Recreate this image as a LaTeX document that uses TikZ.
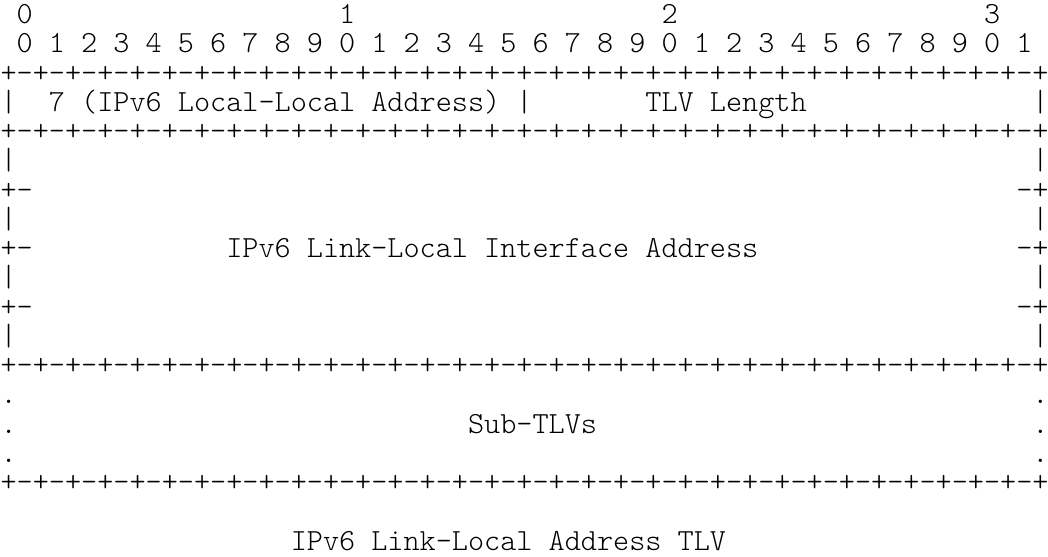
\documentclass[tikz,border=0pt]{standalone}
\usepackage{fontspec}
\newfontfamily\asciifont{lmmonolt10-regular.otf}
\usetikzlibrary{positioning}

\def\dashrow{+-+-+-+-+-+-+-+-%
+-+-+-+-+-+-+-+-%
+-+-+-+-+-+-+-+-%
+-+-+-+-+-+-+-+-%
+}

\begin{document}
\begin{tikzpicture}
\tikzstyle{ascii}=[anchor=base west, inner sep=0pt, text=black,
font=\asciifont\fontsize{11.4286pt}{10.89pt}\selectfont, yshift=-3.3pt]
\def\cw{6pt}
\def\lh{10.89pt}

\useasboundingbox (0,0) rectangle (65*\cw, -19*\lh);

% bit numbers
\node (tens0) [ascii] at (1*\cw, -0.5*\lh) {0};
\node (tens1) [ascii] at (21*\cw, -0.5*\lh) {1};
\node (tens2) [ascii] at (41*\cw, -0.5*\lh) {2};
\node (tens3) [ascii] at (61*\cw, -0.5*\lh) {3};
\node (bits) [ascii] at (1*\cw, -1.5*\lh) {0 1 2 3 4 5 6 7 8 9 0 1 2 3 4 5 6 7 8 9 0 1 2 3 4 5 6 7 8 9 0 1};

% type and length
\node (rule1) [ascii] at (0, -2.5*\lh) {\dashrow};
\node (bar1l) [ascii] at (0, -3.5*\lh) {|};
\node (type) [ascii] at (3*\cw, -3.5*\lh) {7 (IPv6 Local-Local Address)};
\node (bar1m) [ascii] at (32*\cw, -3.5*\lh) {|};
\node (length) [ascii] at (40*\cw, -3.5*\lh) {TLV Length};
\node (bar1r) [ascii] at (64*\cw, -3.5*\lh) {|};
\node (rule2) [ascii] at (0, -4.5*\lh) {\dashrow};

% address
\node (bar2l) [ascii] at (0, -5.5*\lh) {|};
\node (bar2r) [ascii] at (64*\cw, -5.5*\lh) {|};
\node (tick1l) [ascii] at (0, -6.5*\lh) {+-};
\node (tick1r) [ascii] at (63*\cw, -6.5*\lh) {-+};
\node (bar3l) [ascii] at (0, -7.5*\lh) {|};
\node (bar3r) [ascii] at (64*\cw, -7.5*\lh) {|};
\node (tick2l) [ascii] at (0, -8.5*\lh) {+-};
\node (addr) [ascii] at (14*\cw, -8.5*\lh) {IPv6 Link-Local Interface Address};
\node (tick2r) [ascii] at (63*\cw, -8.5*\lh) {-+};
\node (bar4l) [ascii] at (0, -9.5*\lh) {|};
\node (bar4r) [ascii] at (64*\cw, -9.5*\lh) {|};
\node (tick3l) [ascii] at (0, -10.5*\lh) {+-};
\node (tick3r) [ascii] at (63*\cw, -10.5*\lh) {-+};
\node (bar5l) [ascii] at (0, -11.5*\lh) {|};
\node (bar5r) [ascii] at (64*\cw, -11.5*\lh) {|};
\node (rule3) [ascii] at (0, -12.5*\lh) {\dashrow};

% sub-tlvs
\node (dot1l) [ascii] at (0, -13.5*\lh) {.};
\node (dot1r) [ascii] at (64*\cw, -13.5*\lh) {.};
\node (dot2l) [ascii] at (0, -14.5*\lh) {.};
\node (subtlv) [ascii] at (29*\cw, -14.5*\lh) {Sub-TLVs};
\node (dot2r) [ascii] at (64*\cw, -14.5*\lh) {.};
\node (dot3l) [ascii] at (0, -15.5*\lh) {.};
\node (dot3r) [ascii] at (64*\cw, -15.5*\lh) {.};
\node (rule4) [ascii] at (0, -16.5*\lh) {\dashrow};

% caption
\node (caption) [ascii] at (18*\cw, -18.5*\lh) {IPv6 Link-Local Address TLV};

\end{tikzpicture}
\end{document}
